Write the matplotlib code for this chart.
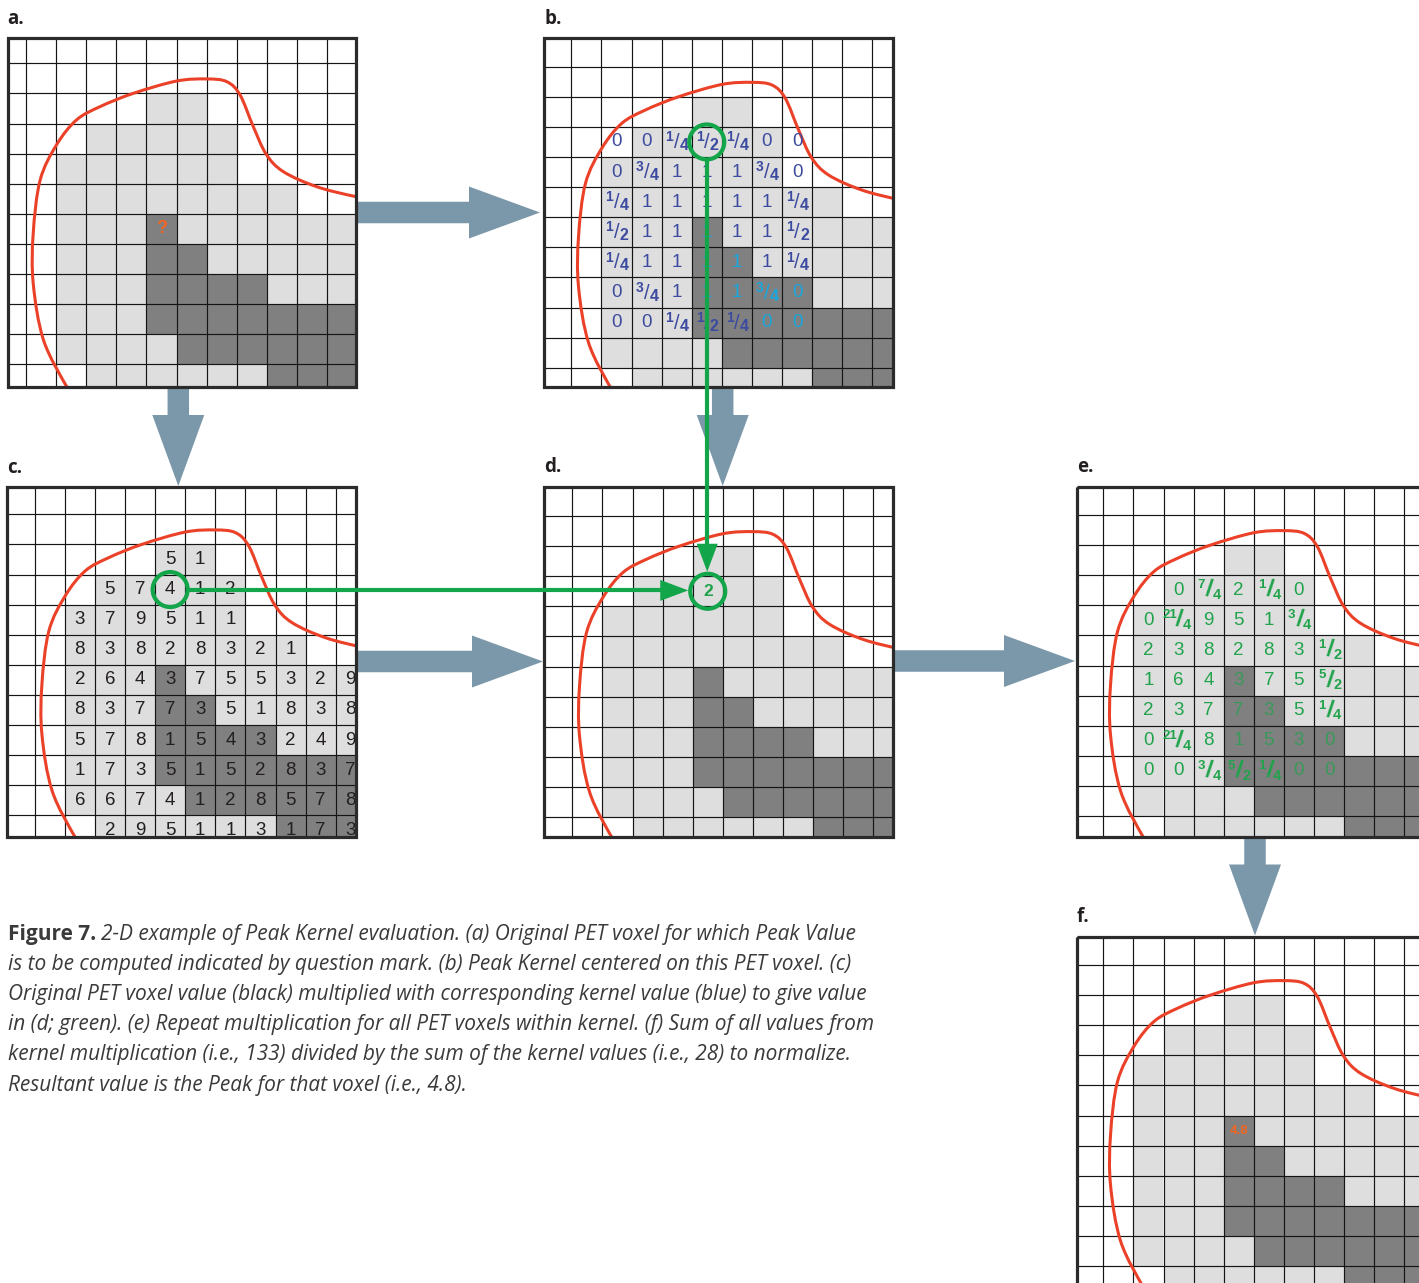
import numpy as np
import matplotlib
matplotlib.use("Agg")
import matplotlib.pyplot as plt
from matplotlib.patches import Rectangle, Polygon, Circle, PathPatch
from matplotlib.path import Path
from fractions import Fraction

W, H = 1419, 1283
CELL = 30.1

# voxel classes for grid rows -1..10 and cols -1..10
# '.' background, 'l' lesion, 'd' hot core
voxel_map = [
    "............",
    "............",
    ".....ll.....",
    "...lllll....",
    "..llllll....",
    "..llllllll..",
    "..llldllllll",
    "..lllddlllll",
    "..lllddddlll",
    "..lllddddddd",
    "..lllldddddd",
    "...llllllddd",
]

# tumour contour (grid units: col, row)
contour_x = [1.75, 1.35, 0.58, 0.24, 0.24, 0.47, 1.02, 1.68, 2.46, 3.56, 5.0, 6.0,
             6.67, 7.11, 7.55, 7.98, 8.55, 9.66, 10.96, 12.2]
contour_y = [11.3, 10.74, 9.19, 7.31, 5.65, 3.88, 2.7, 1.88, 1.44, 1.0, 0.59, 0.52,
             0.61, 1.05, 2.1, 3.02, 3.6, 4.1, 4.43, 4.65]

# PET voxel values (panel c): row -> (first col, digits)
pet_rows = {
    1: (4, "51"),
    2: (2, "57412"),
    3: (1, "379511"),
    4: (1, "83828321"),
    5: (1, "2643755329"),
    6: (1, "8377351838"),
    7: (1, "5781543249"),
    8: (1, "1735152837"),
    9: (1, "6674128578"),
    10: (2, "295113173"),
}

# peak kernel (panel b), centred on row 5 / col 4
kernel = [
    ["0", "0", "1/4", "1/2", "1/4", "0", "0"],
    ["0", "3/4", "1", "1", "1", "3/4", "0"],
    ["1/4", "1", "1", "1", "1", "1", "1/4"],
    ["1/2", "1", "1", "1", "1", "1", "1/2"],
    ["1/4", "1", "1", "1", "1", "1", "1/4"],
    ["0", "3/4", "1", "1", "1", "3/4", "0"],
    ["0", "0", "1/4", "1/2", "1/4", "0", "0"],
]
kernel_row0, kernel_col0 = 2, 1
kernel_cyan = [(5, 4), (6, 4), (6, 5), (7, 4), (7, 5), (7, 6), (7, 7), (8, 6), (8, 7)]

query_cell = (4, 5)      # col, row of the voxel with "?"
picked_cell = (4, 2)     # col, row of the circled example
picked_product = "2"
peak_value = "4.8"

caption_head = "Figure 7."
caption_lines = [
    "2-D example of Peak Kernel evaluation. (a) Original PET voxel for which Peak Value",
    "is to be computed indicated by question mark. (b) Peak Kernel centered on this PET voxel. (c)",
    "Original PET voxel value (black) multiplied with corresponding kernel value (blue) to give value",
    "in (d; green). (e) Repeat multiplication for all PET voxels within kernel. (f) Sum of all values from",
    "kernel multiplication (i.e., 133) divided by the sum of the kernel values (i.e., 28) to normalize.",
    "Resultant value is the Peak for that voxel (i.e., 4.8).",
]

LIGHT = "#dedede"
DARK = "#808080"
RED = "#ea4128"
GREEN = "#13a54a"
TXTGREEN = "#20a34b"
BLUE = "#3c4b9f"
CYAN = "#1aa7de"
STEEL = "#7b98aa"
ORANGE = "#f26522"
INK = "#231f20"
NUMFONT = "Liberation Sans"

panels = {
    "a": dict(frame=(7.5, 38.3, 356, 387.3), origin=(26, 63.3)),
    "b": dict(frame=(544, 38.3, 893.3, 387.3), origin=(571.3, 66.7)),
    "c": dict(frame=(7.3, 487.3, 356, 836.7), origin=(34.7, 514.3)),
    "d": dict(frame=(544, 486.7, 893.3, 836.7), origin=(572.3, 516)),
    "e": dict(frame=(1076.7, 486.7, 1425, 836.7), origin=(1103.3, 515)),
    "f": dict(frame=(1076.7, 936.7, 1425, 1286), origin=(1103.3, 965)),
}

fig = plt.figure(figsize=(W / 100, H / 100), dpi=100)
ax = fig.add_axes([0, 0, 1, 1])
ax.set_xlim(0, W)
ax.set_ylim(H, 0)
ax.axis("off")


def to_px(p, c, r):
    gx, gy = panels[p]["origin"]
    return gx + c * CELL, gy + r * CELL


def center(p, c, r):
    return to_px(p, c + 0.5, r + 0.5)


def smooth_path(xs, ys):
    pts = np.column_stack([xs, ys])
    verts = [pts[0]]
    codes = [Path.MOVETO]
    n = len(pts)
    for i in range(n - 1):
        p0 = pts[max(i - 1, 0)]
        p1, p2 = pts[i], pts[i + 1]
        p3 = pts[min(i + 2, n - 1)]
        verts += [p1 + (p2 - p0) / 6, p2 - (p3 - p1) / 6, p2]
        codes += [Path.CURVE4] * 3
    return Path(verts, codes)


def draw_panel(p):
    x0, y0, x1, y1 = panels[p]["frame"]
    clip = Rectangle((x0, y0), x1 - x0, y1 - y0, transform=ax.transData)
    panels[p]["clip"] = clip
    ax.add_patch(Rectangle((x0, y0), x1 - x0, y1 - y0, fc="white", ec="none", zorder=0))
    for i, row in enumerate(voxel_map):
        for j, ch in enumerate(row):
            if ch == ".":
                continue
            x, y = to_px(p, j - 1, i - 1)
            rc = Rectangle((x, y), CELL, CELL, fc=LIGHT if ch == "l" else DARK,
                           ec="none", zorder=1)
            ax.add_patch(rc)
            rc.set_clip_path(clip)
    for k in range(-1, 13):
        x, y = to_px(p, k, k)
        ln, = ax.plot([x, x], [y0, y1], color="#151515", lw=0.85, zorder=2)
        ln.set_clip_path(clip)
        ln, = ax.plot([x0, x1], [y, y], color="#151515", lw=0.85, zorder=2)
        ln.set_clip_path(clip)
    cx, cy = to_px(p, np.array(contour_x), np.array(contour_y))
    curve = PathPatch(smooth_path(cx, cy), fc="none", ec=RED, lw=2.2, zorder=4)
    ax.add_patch(curve)
    curve.set_clip_path(clip)
    ax.add_patch(Rectangle((x0, y0), x1 - x0, y1 - y0, fc="none", ec="#2b2b2b",
                           lw=2.3, zorder=6))
    ax.text(x0, y0 - 14.5, p + ".", fontsize=13.5, fontweight="bold", family="Open Sans",
            color=INK, ha="left", va="baseline")


def put(p, x, y, s, **kw):
    t = ax.text(x, y, s, ha="center", va="center", family=NUMFONT, zorder=5, **kw)
    t.set_clip_path(panels[p]["clip"])
    return t


def fraction(p, c, r, num, den, color, style, alpha=1.0):
    x, y = center(p, c, r)
    dx = 0.24 if len(num) == 1 else 0.3
    if style == "b":
        put(p, x - dx * CELL, y - 0.16 * CELL, num, fontsize=10, fontweight="bold",
            color=color, alpha=alpha)
        put(p, x, y + 0.02 * CELL, "/", fontsize=14.5, color=color, alpha=alpha)
        put(p, x + 0.25 * CELL, y + 0.12 * CELL, den, fontsize=11.5, fontweight="bold",
            color=color, alpha=alpha)
    else:
        put(p, x - dx * CELL, y - 0.17 * CELL, num, fontsize=9.5, fontweight="bold",
            color=color, alpha=alpha)
        put(p, x + 0.02 * CELL, y, "/", fontsize=17, fontweight="bold", color=color,
            alpha=alpha, rotation=-8)
        put(p, x + 0.27 * CELL, y + 0.16 * CELL, den, fontsize=10.5, fontweight="bold",
            color=color, alpha=alpha)


def cell_class(c, r):
    return voxel_map[r + 1][c + 1]


for p in panels:
    draw_panel(p)

# a: the voxel to evaluate
put("a", *center("a", *query_cell), "?", fontsize=13, fontweight="bold", color=ORANGE)

# b: kernel weights
for i, krow in enumerate(kernel):
    for j, k in enumerate(krow):
        c, r = kernel_col0 + j, kernel_row0 + i
        col = CYAN if (r, c) in kernel_cyan else BLUE
        if "/" in k:
            n, d = k.split("/")
            fraction("b", c, r, n, d, col, "b")
        else:
            put("b", *center("b", c, r), k, fontsize=13.5, color=col)

# c: PET voxel values
pet = {}
for r, (c0, digits) in pet_rows.items():
    for j, ch in enumerate(digits):
        pet[(r, c0 + j)] = int(ch)
        put("c", *center("c", c0 + j, r), ch, fontsize=13.5, color=INK)

# d: single product
put("d", *center("d", *picked_cell), picked_product, fontsize=12.5, fontweight="bold",
    color=TXTGREEN)

# e: products kernel * PET
for i, krow in enumerate(kernel):
    for j, k in enumerate(krow):
        c, r = kernel_col0 + j, kernel_row0 + i
        if (r, c) not in pet:
            continue
        v = Fraction(k) * pet[(r, c)]
        dark = cell_class(c, r) == "d"
        if v.denominator == 1:
            put("e", *center("e", c, r), str(v.numerator), fontsize=13.5,
                color=TXTGREEN, alpha=0.75 if dark else 1.0)
        else:
            fraction("e", c, r, str(v.numerator), str(v.denominator), TXTGREEN, "e")

# f: peak value
put("f", *center("f", *query_cell), peak_value, fontsize=9.5, fontweight="bold",
    color=ORANGE)


# block arrows between panels
def block_arrow(x0, y0, x1, y1, shaft=21.5, head_w=52, head_len=71):
    a = np.array([x0, y0], float)
    b = np.array([x1, y1], float)
    d = (b - a) / np.linalg.norm(b - a)
    nrm = np.array([-d[1], d[0]])
    base = b - d * head_len
    pts = [a + nrm * shaft / 2, base + nrm * shaft / 2, base + nrm * head_w / 2, b,
           base - nrm * head_w / 2, base - nrm * shaft / 2, a - nrm * shaft / 2]
    ax.add_patch(Polygon(pts, closed=True, fc=STEEL, ec="none", zorder=3))


block_arrow(357, 212.5, 540, 212.5)
block_arrow(178.3, 388, 178.3, 486)
block_arrow(722.7, 388, 722.7, 486)
block_arrow(357, 661.5, 543, 661.5)
block_arrow(894, 661, 1075, 661)
block_arrow(1255, 837.5, 1255, 935.5)

# green circles and connector arrows
R = 17.5
cb = center("b", *picked_cell)
cc = center("c", *picked_cell)
cd = center("d", *picked_cell)
for (x, y) in (cb, cc, cd):
    ax.add_patch(Circle((x, y), R, fc="none", ec=GREEN, lw=3.0, zorder=8))

xv = (cb[0] + cd[0]) / 2
tip_v = cd[1] - R - 2
ax.plot([xv, xv], [cb[1] + R + 1, tip_v - 20], color=GREEN, lw=3.0, zorder=8,
        solid_capstyle="butt")
ax.add_patch(Polygon([[xv - 10.5, tip_v - 28], [xv + 10.5, tip_v - 28], [xv, tip_v]],
                     fc=GREEN, ec="none", zorder=8))
yh = (cc[1] + cd[1]) / 2
tip_h = cd[0] - R - 2
ax.plot([cc[0] + R + 1, tip_h - 20], [yh, yh], color=GREEN, lw=3.0, zorder=8,
        solid_capstyle="butt")
ax.add_patch(Polygon([[tip_h - 28, yh - 10.5], [tip_h - 28, yh + 10.5], [tip_h, yh]],
                     fc=GREEN, ec="none", zorder=8))


# caption: size fitted so that the first line ends where the reference's does
CAP = "#3a3a3a"
CAP_X, CAP_Y, CAP_END, CAP_STEP = 8, 940, 857, 30.1


def draw_caption(fs):
    items = []
    head = ax.text(CAP_X, CAP_Y, caption_head, fontsize=fs, fontweight="bold",
                   family="Open Sans", color=CAP, ha="left", va="baseline")
    fig.canvas.draw()
    hx = head.get_window_extent().x1
    first = ax.text(hx + 0.3 * fs, CAP_Y, caption_lines[0], fontsize=fs, style="italic",
                    family="Open Sans", color=CAP, ha="left", va="baseline")
    items += [head, first]
    for i, line in enumerate(caption_lines[1:], start=1):
        items.append(ax.text(CAP_X, CAP_Y + CAP_STEP * i, line, fontsize=fs, style="italic",
                             family="Open Sans", color=CAP, ha="left", va="baseline"))
    fig.canvas.draw()
    return items, first.get_window_extent().x1


fs = 12.8
items, end = draw_caption(fs)
fs = fs * (CAP_END - CAP_X) / (end - CAP_X)
for t in items:
    t.remove()
draw_caption(fs)

fig.savefig("out.png", dpi=100)
